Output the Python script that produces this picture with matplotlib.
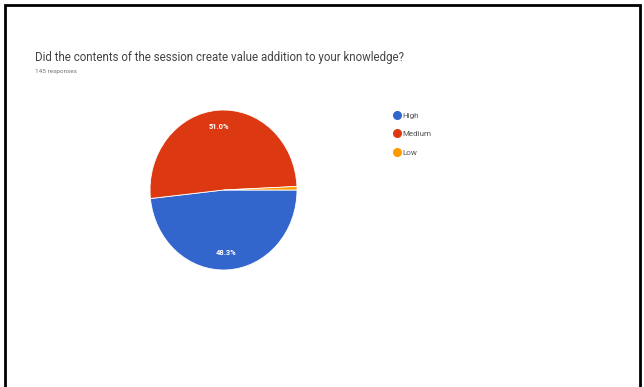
import matplotlib.pyplot as plt
from matplotlib.lines import Line2D
from matplotlib.patches import Rectangle

# survey answers (share of responses, %)
labels = ["High", "Medium", "Low"]
shares = [48.3, 51.0, 0.7]
colors = ["#3366cc", "#dc3912", "#ff9900"]
question = "Did the contents of the session create value addition to your knowledge?"
n_responses = "145 responses"

W, H = 644, 387
fig = plt.figure(figsize=(W / 100, H / 100), dpi=100)
fig.patch.set_facecolor("white")

# black frame round the screenshot
fig.patches.append(Rectangle((5 / W, -0.02), 635 / W, 1.0 - 5 / H + 0.02,
                             transform=fig.transFigure, fill=False,
                             edgecolor="black", linewidth=2))

fig.text(35 / W, 1 - 57 / H, question, fontsize=8.3, color="#444444",
         family="Roboto", va="center", ha="left")
fig.text(35 / W, 1 - 72 / H, n_responses, fontsize=4.6, color="#777777",
         family="Roboto", va="center", ha="left")

# pie axes (the pie in the picture is a bit taller than wide)
ax = fig.add_axes([150 / W, 1 - 270 / H, 147 / W, 160 / H])


def pct(v):
    return f"{v:.1f}%" if v > 5 else ""


wedges, _, autotexts = ax.pie(shares, colors=colors, startangle=0,
                              counterclock=False, autopct=pct,
                              pctdistance=0.79,
                              wedgeprops=dict(edgecolor="white", linewidth=0.6),
                              textprops=dict(color="white", fontsize=5.4,
                                             family="Roboto", weight="bold"))
ax.set_xlim(-1.0, 1.0)
ax.set_ylim(-1.0, 1.0)
ax.set_aspect("auto")
ax.axis("off")

handles = [Line2D([], [], marker="o", linestyle="", markersize=5.5,
                  markerfacecolor=c, markeredgecolor=c) for c in colors]
fig.legend(handles, labels, loc="upper left",
           bbox_to_anchor=(389 / W, 1 - 109 / H), frameon=False,
           prop=dict(family="Roboto", size=5.8), labelcolor="#555555",
           handletextpad=0.05, labelspacing=1.45, handlelength=1.2,
           borderaxespad=0)

fig.savefig("out.png", dpi=100, facecolor="white")
